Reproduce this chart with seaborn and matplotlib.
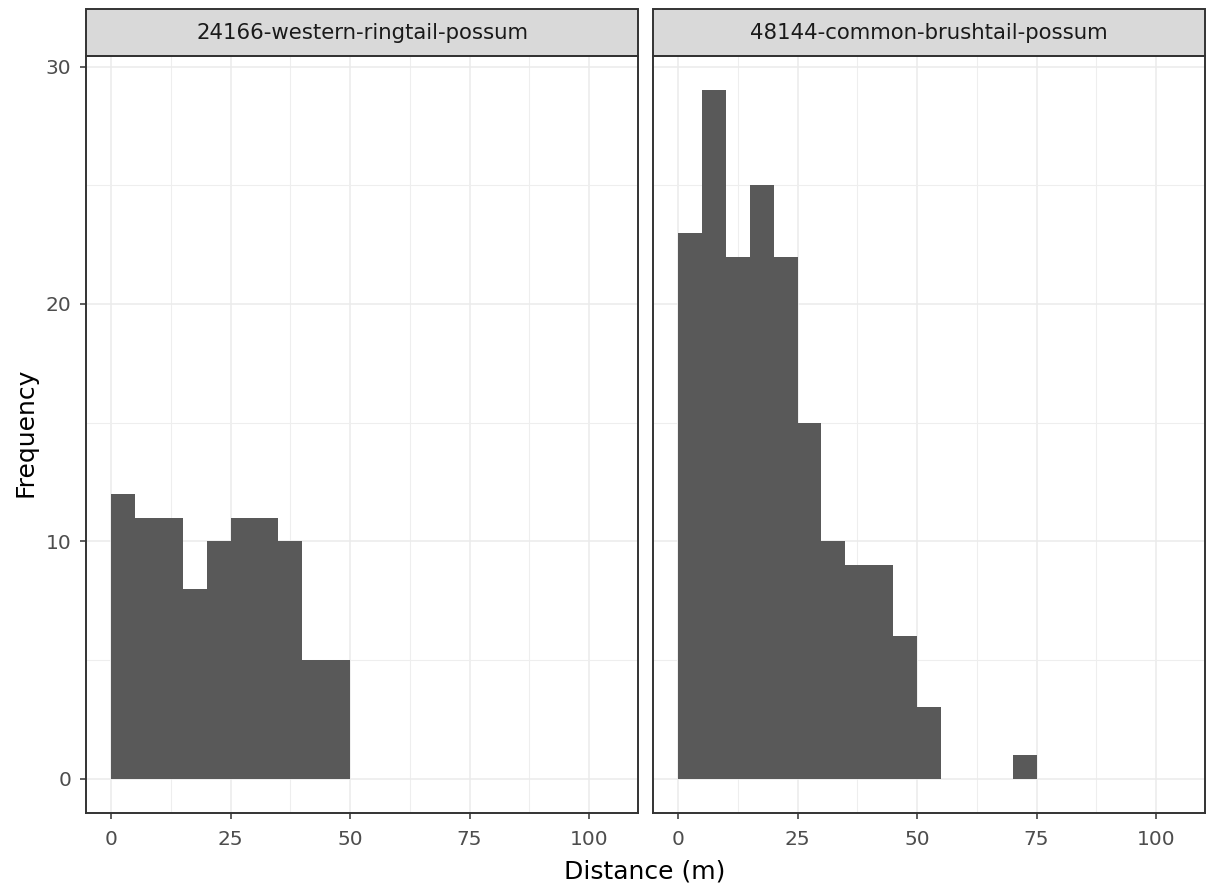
import numpy as np
import pandas as pd
import seaborn as sns
import matplotlib.pyplot as plt
from matplotlib.patches import Rectangle

# bin start (m) and counts per species, binwidth 5 m
ringtail_bins = [0, 5, 10, 15, 20, 25, 30, 35, 40, 45]
ringtail_counts = [12, 11, 11, 8, 10, 11, 11, 10, 5, 5]
brushtail_bins = [0, 5, 10, 15, 20, 25, 30, 35, 40, 45, 50, 55, 60, 65, 70]
brushtail_counts = [23, 29, 22, 25, 22, 15, 10, 9, 9, 6, 3, 0, 0, 0, 1]
species = ["24166-western-ringtail-possum", "48144-common-brushtail-possum"]

df = pd.concat([
    pd.DataFrame({"species": species[0], "distance": np.array(ringtail_bins) + 2.5,
                  "n": ringtail_counts}),
    pd.DataFrame({"species": species[1], "distance": np.array(brushtail_bins) + 2.5,
                  "n": brushtail_counts}),
])

sns.set_style("white")
plt.rcParams['font.family'] = ['DejaVu Sans']

g = sns.displot(data=df, x="distance", weights="n", col="species",
                col_order=species, binwidth=5, binrange=(0, 105),
                color="#595959", alpha=1, linewidth=0, edgecolor="none",
                height=4, aspect=1)

g.figure.set_size_inches(12.06, 8.9)
g.figure.subplots_adjust(left=86/1206, right=1205/1206, top=1-56/890,
                         bottom=1-813/890, wspace=15/552)
g.set_titles("")
g.set_axis_labels("", "")

for i, (ax, name) in enumerate(zip(g.axes.flat, species)):
    ax.set_xlim(-5.25, 110.25)
    ax.set_ylim(-1.45, 30.45)
    ax.set_xticks([0, 25, 50, 75, 100])
    ax.set_xticks([12.5, 37.5, 62.5, 87.5], minor=True)
    ax.set_yticks([0, 10, 20, 30])
    ax.set_yticks([5, 15, 25], minor=True)
    ax.set_axisbelow(True)
    ax.grid(which="major", color="#EBEBEB", linewidth=1.1)
    ax.grid(which="minor", color="#EEEEEE", linewidth=0.8)
    ax.tick_params(which="major", axis="both", length=4.5, width=1.1,
                   color="#333333", labelcolor="#4D4D4D", labelsize=14.5)
    ax.tick_params(axis="x", pad=8, bottom=True)
    ax.tick_params(axis="y", pad=6, left=(i == 0))
    ax.tick_params(which="minor", length=0)
    for sp in ax.spines.values():
        sp.set_visible(True)
        sp.set_color("#333333")
        sp.set_linewidth(1.4)
    # strip on top of each facet
    ax.add_patch(Rectangle((0, 1), 1, 47/757, transform=ax.transAxes,
                           facecolor="#D9D9D9", edgecolor="#333333",
                           linewidth=1.4, clip_on=False))
    ax.text(0.5, 1 + 23.5/757, name, transform=ax.transAxes, ha="center",
            va="center", fontsize=15.3, color="#1A1A1A")

g.figure.text(645/1206, 1-872/890, "Distance (m)", ha="center", va="center",
              fontsize=18, color="black")
g.figure.text(25/1206, 1-432/890, "Frequency", ha="center", va="center",
              rotation=90, fontsize=18, color="black")

plt.savefig("out.png", dpi=100)
